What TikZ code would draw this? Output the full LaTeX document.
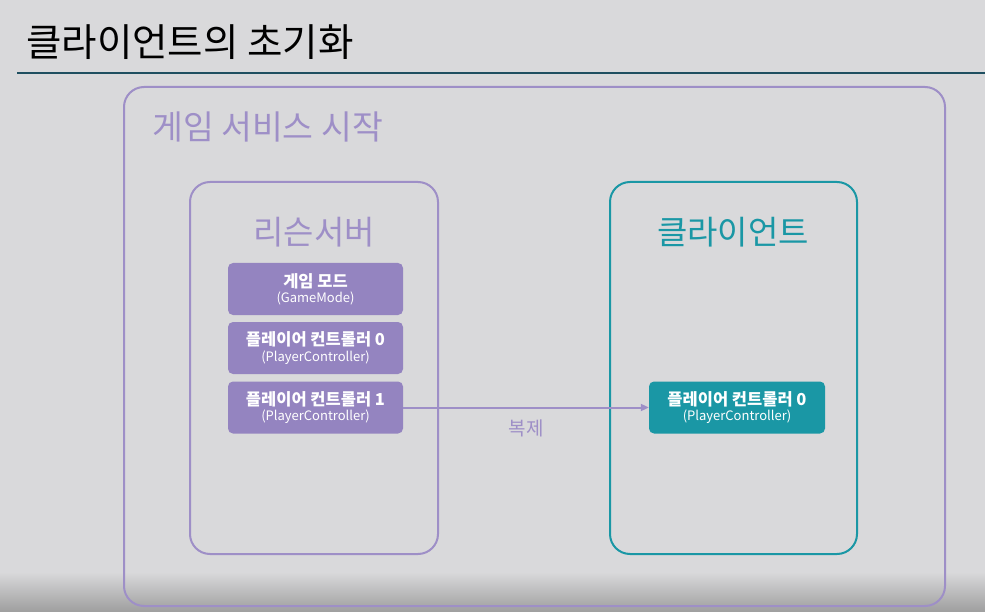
\documentclass[tikz,border=0pt]{standalone}
\usepackage{fontspec}
\setmainfont{Noto Sans CJK KR}
\usetikzlibrary{arrows.meta}

\definecolor{bgGray}{HTML}{D9D9DB}
\definecolor{lineTeal}{HTML}{1F4F60}
\definecolor{svcPurple}{HTML}{9E8FC7}
\definecolor{boxPurple}{HTML}{9484C0}
\definecolor{cliTeal}{HTML}{1A97A5}

\tikzset{
  frame/.style = {draw, line width=2pt, rounded corners=20pt},
  actor/.style = {rounded corners=5pt, text=white, align=center,
                  minimum width=175pt, minimum height=52pt, inner sep=0pt},
  bigtitle/.style = {font=\fontsize{33}{38}\selectfont, inner sep=0pt}
}

\newcommand{\actortext}[2]{{\fontsize{16.5}{21}\selectfont\bfseries #1}\\[2pt]{\fontsize{13}{15}\selectfont #2}}

\begin{document}
\begin{tikzpicture}[x=1pt, y=-1pt]

    \fill[bgGray] (0,0) rectangle (985,612);
    \useasboundingbox (0,0) rectangle (985,612);
    % video overlay at the bottom
    \shade[top color=bgGray, bottom color=black!38] (0,572) rectangle (985,612);

    \node [anchor=west, inner sep=0pt, font=\fontsize{38.5}{44}\selectfont] (title) at (26,42) {클라이언트의 초기화};
    \draw [lineTeal, line width=2pt] (17,73) -- (985,73);

    % game service
    \draw [frame, svcPurple] (124,87) rectangle (945,606);
    \node [anchor=west, inner sep=0pt, text=svcPurple, font=\fontsize{33.5}{38}\selectfont] (service) at (152,127) {게임 서비스 시작};

    % listen server
    \draw [frame, svcPurple] (190,182) rectangle (438,554);
    \node [bigtitle, text=svcPurple] (listen) at (314,232) {리슨서버};

    \node [actor, fill=boxPurple] (gamemode) at (315.5,289) {\actortext{게임 모드}{(GameMode)}};
    \node [actor, fill=boxPurple] (pc0) at (315.5,348) {\actortext{플레이어 컨트롤러 0}{(PlayerController)}};
    \node [actor, fill=boxPurple] (pc1) at (315.5,407.5) {\actortext{플레이어 컨트롤러 1}{(PlayerController)}};

    % client
    \draw [frame, cliTeal] (610,182) rectangle (857,554);
    \node [bigtitle, text=cliTeal] (client) at (733,232) {클라이언트};

    \node [actor, fill=cliTeal, minimum width=176pt] (cpc0) at (737,407.5) {\actortext{플레이어 컨트롤러 0}{(PlayerController)}};

    \draw [-{Triangle[length=8pt,width=7pt]}, svcPurple, line width=2pt] (pc1) -- node [below=8pt, text=svcPurple, font=\fontsize{19}{22}\selectfont] (copy) {복제} (cpc0);

\end{tikzpicture}
\end{document}
